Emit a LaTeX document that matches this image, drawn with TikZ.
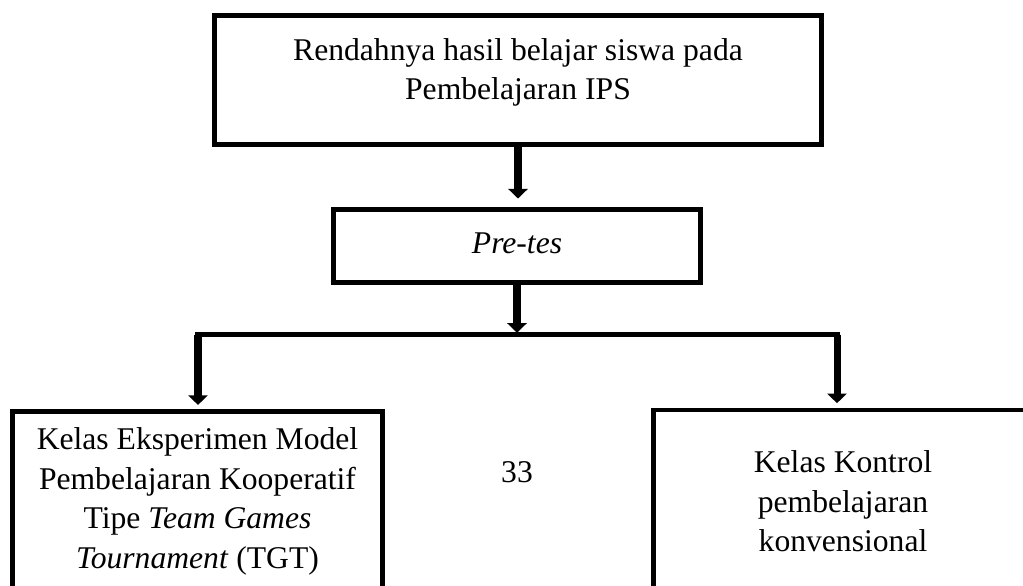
\documentclass[tikz,border=0pt]{standalone}
\usepackage{fontspec}
\setmainfont{Liberation Serif}
\usetikzlibrary{arrows.meta}

\tikzset{
  kotak/.style={draw, line width=2.8pt, inner sep=0pt},
  teks/.style={align=center, inner sep=0pt, font=\fontsize{18}{22.5}\selectfont},
  panah/.style={line width=4pt, -{Triangle[width=11pt,length=5.5pt]}},
  garis/.style={line width=3.2pt, line cap=rect}
}

\begin{document}
\begin{tikzpicture}[x=0.02cm, y=-0.02cm]
    \path[use as bounding box] (0,0) rectangle (1023,585);
    \clip (0,0) rectangle (1023,585);
    \node[kotak, minimum width=12.14cm, minimum height=2.58cm] (masalah) at (518,80) {};
    \node[kotak, minimum width=7.33cm, minimum height=1.45cm] (pretes) at (517,246) {};
    \node[kotak, minimum width=7.39cm, minimum height=5.77cm] (eksp) at (197.5,556) {};
    \node[kotak, minimum width=7.59cm, minimum height=5.8cm] (kontrol) at (843.4,555) {};
    \node[teks] (tmasalah) at (518,72.6) {Rendahnya hasil belajar siswa pada\\Pembelajaran IPS};
    \node[teks] (tpretes) at (517,243.5) {\textit{Pre-tes}};
    \node[teks] (teksp) at (197.5,501.5) {Kelas Eksperimen Model\\Pembelajaran Kooperatif\\Tipe \textit{Team Games}\\\textit{Tournament} (TGT)};
    \node[teks] (tkontrol) at (843,501.5) {Kelas Kontrol\\pembelajaran\\konvensional};
    \node[teks] (halaman) at (517,472) {33};
    \coordinate (cabang) at (517,334.5);
    \coordinate (kiri) at (198,334.5);
    \coordinate (kanan) at (837,334.5);
    \draw[panah, shorten >=5pt] (masalah.south) -- (masalah.south |- pretes.north);
    \draw[panah, shorten >=1pt] (pretes.south) -- (cabang);
    \draw[garis] (kiri) -- (kanan);
    \draw[panah, shorten >=2.5pt] (kiri) -- (kiri |- eksp.north);
    \draw[panah, shorten >=2.5pt] (kanan) -- (kanan |- kontrol.north);
  \end{tikzpicture}
\end{document}
